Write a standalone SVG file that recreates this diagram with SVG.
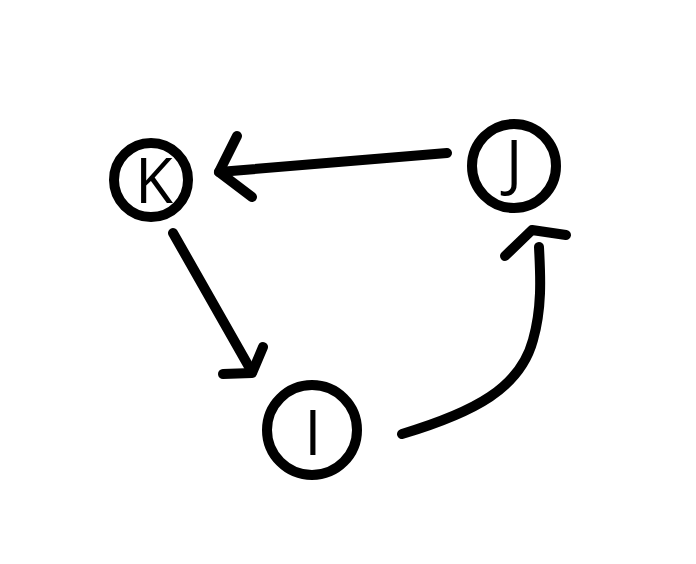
<svg xmlns="http://www.w3.org/2000/svg" width="696" height="564" viewBox="0 0 696 564">
<style>
.node{fill:none;stroke:#000;stroke-width:10}
.lbl{font-family:"Open Sans","DejaVu Sans",sans-serif;font-size:62px;fill:#000;text-anchor:middle}
.edge{fill:none;stroke:#000;stroke-width:10;stroke-linecap:round;stroke-linejoin:round}
</style>
<rect width="696" height="564" fill="#fff"/>
<g id="node-K"><circle class="node" cx="151" cy="180" r="37"/><text class="lbl" x="154" y="203">K</text></g>
<g id="node-J"><circle class="node" cx="514" cy="166" r="42"/><text class="lbl" x="514" y="185">J</text></g>
<g id="node-I"><circle class="node" cx="312" cy="430" r="45"/><text class="lbl" x="313" y="455">I</text></g>
<g id="connectors">
<g id="edge-J-K"><path class="edge" d="M447,153 L219,172"/><path class="edge" d="M237,136 L219,172 L252,197"/></g>
<g id="edge-K-I"><path class="edge" d="M173,233 L252,372"/><path class="edge" d="M263,347 L252,373 L223,374"/></g>
<g id="edge-I-J"><path class="edge" d="M402,434 C475,412 520,388 533,340 C543,305 540,270 539,247"/><path class="edge" d="M505,256 L532,230 L566,235"/></g>
</g>
</svg>
